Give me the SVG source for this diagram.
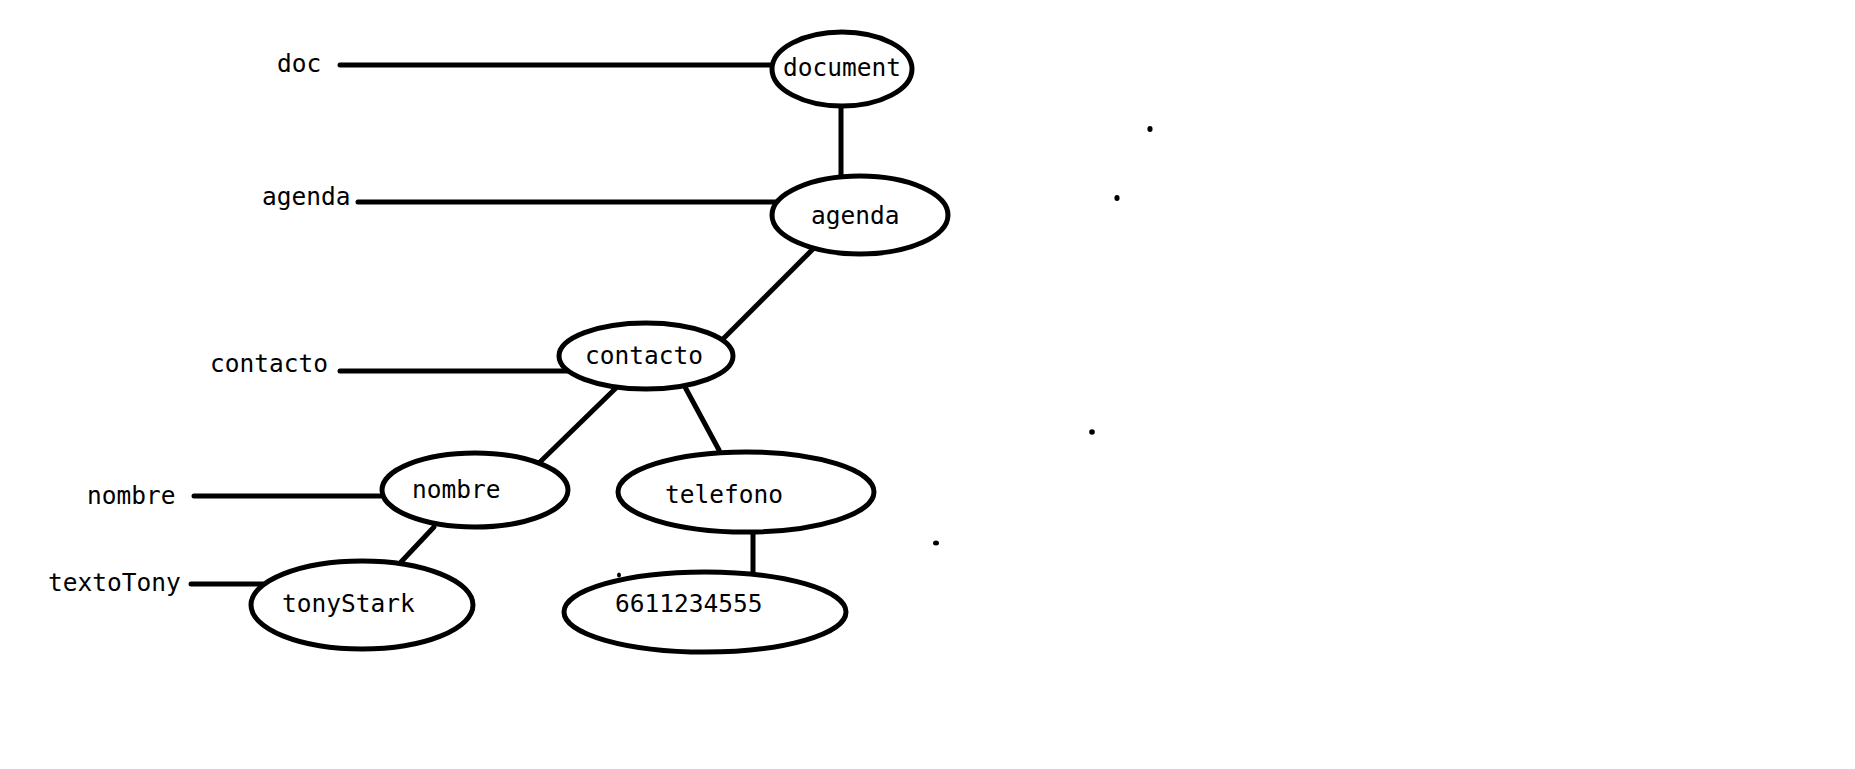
<svg xmlns="http://www.w3.org/2000/svg" width="1855" height="769" viewBox="0 0 1855 769">
<style>
text{font-family:"DejaVu Sans Mono","Liberation Mono",monospace;font-size:24.5px;fill:#000}
.n{fill:#fff;stroke:#000;stroke-width:5}
.c line{stroke:#000;stroke-width:5;stroke-linecap:round}
</style>
<rect width="1855" height="769" fill="#fff"/>
<g class="c" id="connectors">
<line x1="340" y1="65" x2="773" y2="65"/>
<line x1="841" y1="105" x2="841" y2="176"/>
<line x1="358" y1="202" x2="776" y2="202"/>
<line x1="816" y1="246" x2="722" y2="340"/>
<line x1="340" y1="371" x2="568" y2="371"/>
<line x1="617" y1="387" x2="540" y2="462"/>
<line x1="685" y1="387" x2="719" y2="450"/>
<line x1="194" y1="496" x2="386" y2="496"/>
<line x1="434" y1="527" x2="401" y2="562"/>
<line x1="191" y1="584" x2="263" y2="584"/>
<line x1="753" y1="532" x2="753" y2="574"/>
</g>
<g id="label-doc"><text x="277" y="72">doc</text></g>
<g id="label-agenda"><text x="262" y="205">agenda</text></g>
<g id="label-contacto"><text x="210" y="372">contacto</text></g>
<g id="label-nombre"><text x="87" y="504">nombre</text></g>
<g id="label-textoTony"><text x="48" y="591">textoTony</text></g>
<g id="node-document"><ellipse class="n" cx="842" cy="69" rx="70" ry="37"/><text x="783" y="76">document</text></g>
<g id="node-agenda"><ellipse class="n" cx="860" cy="215" rx="88" ry="39"/><text x="811" y="224">agenda</text></g>
<g id="node-contacto"><ellipse class="n" cx="646" cy="356" rx="87" ry="33"/><text x="585" y="364">contacto</text></g>
<g id="node-nombre"><ellipse class="n" cx="475" cy="490" rx="93" ry="37"/><text x="412" y="498">nombre</text></g>
<g id="node-telefono"><ellipse class="n" cx="746" cy="492" rx="128" ry="40"/><text x="665" y="503">telefono</text></g>
<g id="node-tonyStark"><ellipse class="n" cx="362" cy="605" rx="111" ry="44"/><text x="282" y="612">tonyStark</text></g>
<g id="node-6611234555"><ellipse class="n" cx="705" cy="612" rx="141" ry="40"/><text x="615" y="612">6611234555</text></g>
<g id="dots" fill="#000">
<ellipse cx="1150" cy="129" rx="2.6" ry="3"/>
<ellipse cx="1117" cy="198" rx="2.6" ry="3"/>
<ellipse cx="1092" cy="432" rx="2.8" ry="2.8"/>
<ellipse cx="936" cy="543" rx="3" ry="2.5"/>
<ellipse cx="619" cy="575" rx="2" ry="2.5"/>
</g>
</svg>
